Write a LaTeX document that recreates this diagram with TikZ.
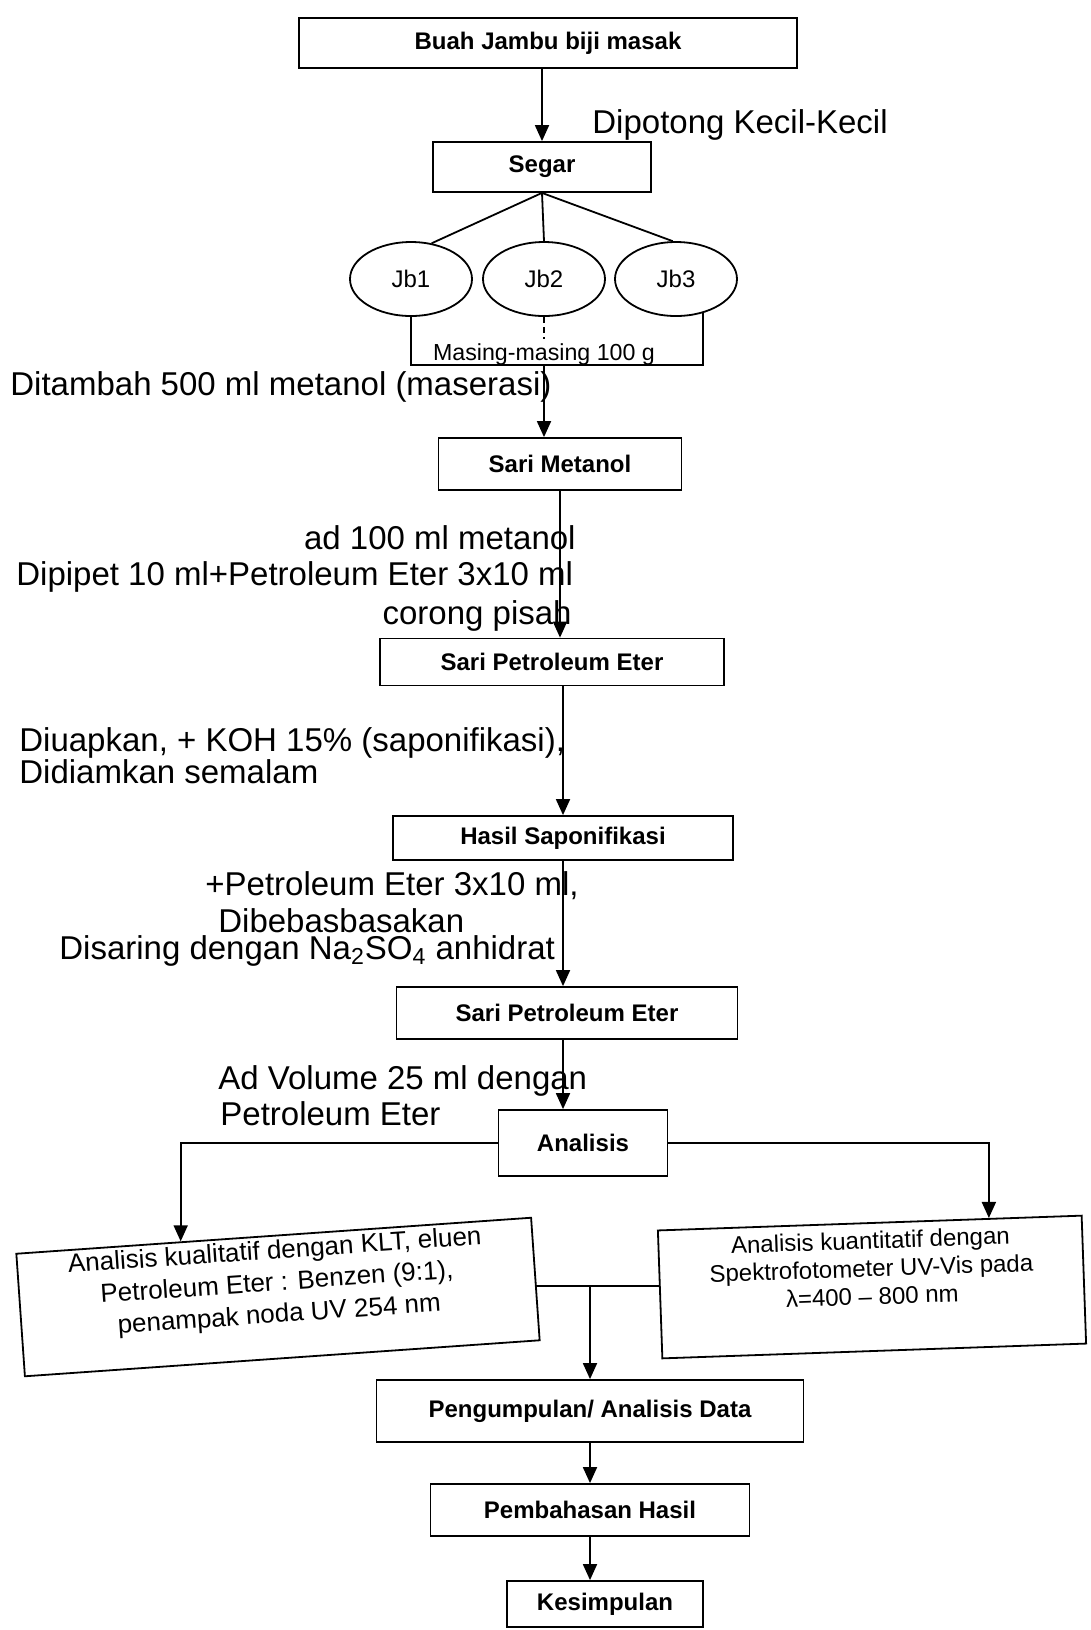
\documentclass[tikz,border=0pt]{standalone}
\usepackage{fontspec}
\setmainfont{Liberation Sans}
\usetikzlibrary{positioning,shapes.geometric,arrows.meta,calc}

\tikzset{
  kotak/.style={draw, rectangle, line width=0.9pt, inner sep=2pt, align=center,
    font=\fontsize{12}{14}\selectfont\bfseries},
  lonjong/.style={draw, ellipse, line width=0.9pt, minimum width=61pt, minimum height=37pt,
    font=\fontsize{12}{14}\selectfont},
  ket/.style={inner sep=0pt, font=\fontsize{16.5}{19}\selectfont},
  garis/.style={line width=0.9pt},
  panah/.style={line width=0.9pt, -{Triangle[width=7pt,length=8pt]}},
}

\begin{document}
\begin{tikzpicture}[x=0.5pt, y=-0.5pt]
\useasboundingbox (0,0) rectangle (1091,1630);

% kotak-kotak utama
\node[kotak, minimum width=249pt, minimum height=25pt] (buah_jambu) at (548,43) {Buah Jambu biji masak};
\node[kotak, minimum width=109pt, minimum height=25pt] (segar) at (542,167) {Segar};
\node[lonjong] (jb_1) at (411,279) {Jb1};
\node[lonjong] (jb_2) at (544,279) {Jb2};
\node[lonjong] (jb_3) at (676,279) {Jb3};
\node[kotak, minimum width=121.5pt, minimum height=26pt] (sari_metanol) at (560,464) {Sari Metanol};
\node[kotak, minimum width=172pt, minimum height=23.5pt] (sari_pe1) at (552,662) {Sari Petroleum Eter};
\node[kotak, minimum width=170pt, minimum height=22pt] (hasil_sapon) at (563,838) {Hasil Saponifikasi};
\node[kotak, minimum width=170.5pt, minimum height=26pt] (sari_pe2) at (567,1013) {Sari Petroleum Eter};
\node[kotak, minimum width=84.5pt, minimum height=33pt] (analisis) at (583,1143) {Analisis};
\node[kotak, rotate=4, minimum width=258pt, minimum height=60pt,
  font=\fontsize{13}{16}\selectfont] (kualitatif) at (278,1297)
  {Analisis kualitatif dengan KLT, eluen\\ Petroleum Eter : Benzen (9:1),\\ penampak noda UV 254 nm\\ \mbox{}};
\node[kotak, rotate=2, minimum width=212pt, minimum height=64pt,
  font=\fontsize{12}{14}\selectfont] (kuantitatif) at (872,1287)
  {Analisis kuantitatif dengan\\ Spektrofotometer UV-Vis pada\\ λ=400 – 800 nm\\[5pt] \mbox{}};
\node[kotak, minimum width=213.5pt, minimum height=31pt] (pengumpulan) at (590,1411) {Pengumpulan/ Analisis Data};
\node[kotak, minimum width=159.5pt, minimum height=26pt] (pembahasan) at (590,1510) {Pembahasan Hasil};
\node[kotak, minimum width=98pt, minimum height=23pt] (kesimpulan) at (605,1604) {Kesimpulan};

% keterangan
\node[ket, anchor=west] (ket_potong) at (592,125) {Dipotong Kecil-Kecil};
\node[inner sep=0pt, font=\fontsize{11.6}{14}\selectfont] (masing) at (544,354) {Masing-masing 100 g};
\node[ket, anchor=west] (ket_maserasi) at (10,387) {Ditambah 500 ml metanol (maserasi)};
\node[ket, anchor=east] (ket_ad) at (576,538) {ad 100 ml metanol};
\node[ket, anchor=west] (ket_pipet) at (16,577) {Dipipet 10 ml+Petroleum Eter 3x10 ml};
\node[ket, anchor=east] (ket_corong) at (572,616) {corong pisah};
\node[ket, anchor=west] (ket_uap) at (19,743) {Diuapkan, + KOH 15\% (saponifikasi),};
\node[ket, anchor=west] (ket_diam) at (19,772) {Didiamkan semalam};
\node[ket, anchor=west] (ket_pe) at (205,886) {+Petroleum Eter 3x10 ml,};
\node[ket, anchor=west] (ket_basa) at (218,921) {Dibebasbasakan};
\node[ket, anchor=west] (ket_saring) at (59,951) {Disaring dengan Na\textsubscript{2}SO\textsubscript{4} anhidrat};
\node[ket, anchor=west] (ket_vol) at (218,1081) {Ad Volume 25 ml dengan};
\node[ket, anchor=west] (ket_eter) at (220,1114) {Petroleum Eter};

% penghubung
\coordinate (dasar) at (544,365);
\coordinate (simpang) at (590,1286);
\draw[panah] (buah_jambu.south -| segar.north) -- (segar.north);
\draw[garis] (segar.south) -- (jb_1.60);
\draw[garis] (segar.south) -- (jb_2.north);
\draw[garis] (segar.south) -- (jb_3.95);
\draw[garis] (jb_1.south) |- (dasar) -| (jb_3.-52);
\draw[garis, densely dashed] (jb_2.south) -- ++(0,22);
\draw[panah] (dasar) -- (dasar |- sari_metanol.north);
\draw[panah] (sari_metanol.south) -- (sari_metanol.south |- sari_pe1.north);
\draw[panah] (hasil_sapon.north |- sari_pe1.south) -- (hasil_sapon.north);
\draw[panah] (hasil_sapon.south) -- (hasil_sapon.south |- sari_pe2.north);
\draw[panah] (hasil_sapon.south |- sari_pe2.south) -- (hasil_sapon.south |- analisis.north);
\draw[panah] (analisis.west) -| ($(kualitatif.north west)!0.32!(kualitatif.north east)$);
\draw[panah] (analisis.east) -| ($(kuantitatif.north west)!0.78!(kuantitatif.north east)$);
\draw[garis] (kualitatif.east |- simpang) -- (kuantitatif.west |- simpang);
\draw[panah] (simpang) -- (simpang |- pengumpulan.north);
\draw[panah] (pengumpulan.south) -- (pembahasan.north);
\draw[panah] (pembahasan.south) -- (pembahasan.south |- kesimpulan.north);
\end{tikzpicture}
\end{document}
